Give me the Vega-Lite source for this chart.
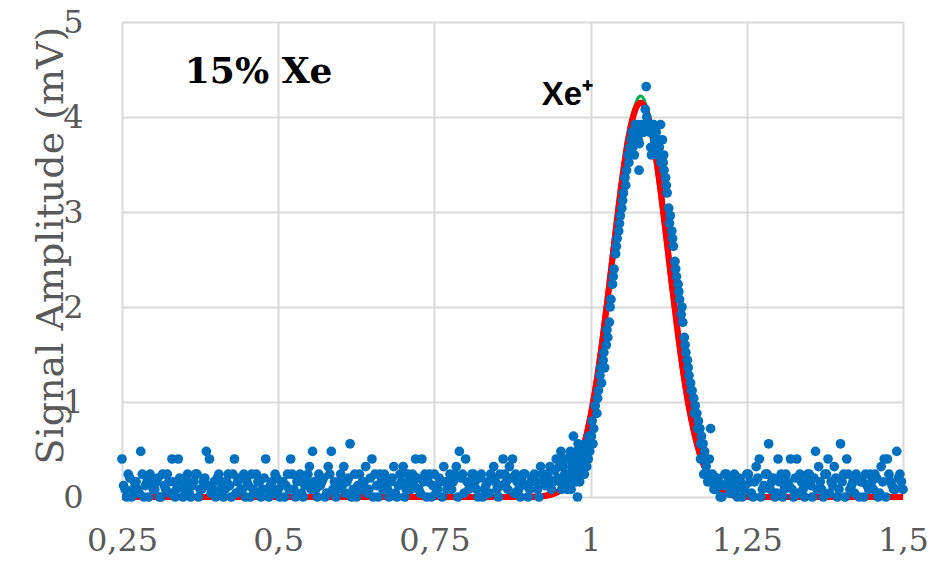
{
  "$schema": "https://vega.github.io/schema/vega-lite/v6.json",
  "width": 781,
  "height": 475,
  "autosize": "none",
  "padding": {"left": 122, "top": 22, "right": 30, "bottom": 72},
  "background": "white",
  "config": {"view": {"stroke": null}},
  "datasets": {
    "fit": [
      {"x": 0.25, "y": 0}, {"x": 0.90, "y": 0}, {"x": 0.92, "y": 0.007}, {"x": 0.93, "y": 0.016}, {"x": 0.94, "y": 0.033},
      {"x": 0.95, "y": 0.064}, {"x": 0.96, "y": 0.119}, {"x": 0.97, "y": 0.209}, {"x": 0.98, "y": 0.352},
      {"x": 0.99, "y": 0.562}, {"x": 1.00, "y": 0.855}, {"x": 1.01, "y": 1.237}, {"x": 1.02, "y": 1.706},
      {"x": 1.03, "y": 2.239}, {"x": 1.04, "y": 2.796}, {"x": 1.05, "y": 3.323}, {"x": 1.06, "y": 3.760},
      {"x": 1.07, "y": 4.049}, {"x": 1.075, "y": 4.124}, {"x": 1.08, "y": 4.15}, {"x": 1.085, "y": 4.124},
      {"x": 1.09, "y": 4.049}, {"x": 1.10, "y": 3.760}, {"x": 1.11, "y": 3.323}, {"x": 1.12, "y": 2.796},
      {"x": 1.13, "y": 2.239}, {"x": 1.14, "y": 1.706}, {"x": 1.15, "y": 1.237}, {"x": 1.16, "y": 0.855},
      {"x": 1.17, "y": 0.562}, {"x": 1.18, "y": 0.352}, {"x": 1.19, "y": 0.209}, {"x": 1.20, "y": 0.119},
      {"x": 1.21, "y": 0.064}, {"x": 1.22, "y": 0.033}, {"x": 1.23, "y": 0.016}, {"x": 1.24, "y": 0.007},
      {"x": 1.26, "y": 0}, {"x": 1.5, "y": 0}
    ],
    "green": [
      {"x": 1.065, "y": 3.98}, {"x": 1.07, "y": 4.1}, {"x": 1.075, "y": 4.19}, {"x": 1.08, "y": 4.22},
      {"x": 1.085, "y": 4.19}, {"x": 1.09, "y": 4.1}, {"x": 1.095, "y": 3.98}
    ],
    "pts": [
      {"x":0.250,"y":0.40},{"x":0.255,"y":0.08},{"x":0.260,"y":0.24},{"x":0.265,"y":0},{"x":0.270,"y":0.16},{"x":0.275,"y":0.08},{"x":0.280,"y":0.48},{"x":0.285,"y":0},{"x":0.290,"y":0.16},{"x":0.295,"y":0.24},
      {"x":0.300,"y":0.08},{"x":0.305,"y":0.16},{"x":0.310,"y":0},{"x":0.315,"y":0.24},{"x":0.320,"y":0.08},{"x":0.325,"y":0.16},{"x":0.330,"y":0.40},{"x":0.335,"y":0},{"x":0.340,"y":0.40},{"x":0.345,"y":0.16},
      {"x":0.350,"y":0.08},{"x":0.355,"y":0.24},{"x":0.360,"y":0},{"x":0.365,"y":0.16},{"x":0.370,"y":0.24},{"x":0.375,"y":0.08},{"x":0.380,"y":0.16},{"x":0.385,"y":0.48},{"x":0.390,"y":0.40},{"x":0.395,"y":0.08},
      {"x":0.400,"y":0},{"x":0.405,"y":0.24},{"x":0.410,"y":0.16},{"x":0.415,"y":0.08},{"x":0.420,"y":0.24},{"x":0.425,"y":0},{"x":0.430,"y":0.40},{"x":0.435,"y":0.16},{"x":0.440,"y":0.08},{"x":0.445,"y":0.24},
      {"x":0.450,"y":0.16},{"x":0.455,"y":0},{"x":0.460,"y":0.08},{"x":0.465,"y":0.24},{"x":0.470,"y":0.16},{"x":0.475,"y":0.08},{"x":0.480,"y":0.40},{"x":0.485,"y":0},{"x":0.490,"y":0.16},{"x":0.495,"y":0.24},
      {"x":0.500,"y":0.08},{"x":0.505,"y":0.16},{"x":0.510,"y":0},{"x":0.515,"y":0.24},{"x":0.520,"y":0.40},{"x":0.525,"y":0.08},{"x":0.530,"y":0.16},{"x":0.535,"y":0.24},{"x":0.540,"y":0},{"x":0.545,"y":0.16},
      {"x":0.550,"y":0.32},{"x":0.555,"y":0.48},{"x":0.560,"y":0.08},{"x":0.565,"y":0.24},{"x":0.570,"y":0.16},{"x":0.575,"y":0},{"x":0.580,"y":0.32},{"x":0.585,"y":0.48},{"x":0.590,"y":0.16},{"x":0.595,"y":0.08},
      {"x":0.600,"y":0.24},{"x":0.605,"y":0.32},{"x":0.610,"y":0.16},{"x":0.615,"y":0.56},{"x":0.620,"y":0.08},{"x":0.625,"y":0},{"x":0.630,"y":0.24},{"x":0.635,"y":0.16},{"x":0.640,"y":0.32},{"x":0.645,"y":0.08},
      {"x":0.650,"y":0.40},{"x":0.655,"y":0.24},{"x":0.660,"y":0},{"x":0.665,"y":0.16},{"x":0.670,"y":0.24},{"x":0.675,"y":0.08},{"x":0.680,"y":0.16},{"x":0.685,"y":0.32},{"x":0.690,"y":0},{"x":0.695,"y":0.24},
      {"x":0.700,"y":0.32},{"x":0.705,"y":0.08},{"x":0.710,"y":0.16},{"x":0.715,"y":0.24},{"x":0.720,"y":0.40},{"x":0.725,"y":0.08},{"x":0.730,"y":0.40},{"x":0.735,"y":0.24},{"x":0.740,"y":0.16},{"x":0.745,"y":0},
      {"x":0.750,"y":0.24},{"x":0.755,"y":0.08},{"x":0.760,"y":0.16},{"x":0.765,"y":0.32},{"x":0.770,"y":0.08},{"x":0.775,"y":0.24},{"x":0.780,"y":0.16},{"x":0.785,"y":0.32},{"x":0.790,"y":0.48},{"x":0.795,"y":0.24},
      {"x":0.800,"y":0.40},{"x":0.805,"y":0.08},{"x":0.810,"y":0.24},{"x":0.815,"y":0.16},{"x":0.820,"y":0},{"x":0.825,"y":0.24},{"x":0.830,"y":0.08},{"x":0.835,"y":0.16},{"x":0.840,"y":0.24},{"x":0.845,"y":0.32},
      {"x":0.850,"y":0.08},{"x":0.855,"y":0.24},{"x":0.860,"y":0.40},{"x":0.865,"y":0.16},{"x":0.870,"y":0.32},{"x":0.875,"y":0.40},{"x":0.880,"y":0.24},{"x":0.885,"y":0.08},{"x":0.890,"y":0.16},{"x":0.895,"y":0.24},
      {"x":0.900,"y":0},{"x":0.905,"y":0.16},{"x":0.910,"y":0.24},{"x":0.915,"y":0.08},{"x":0.920,"y":0.32},{"x":0.925,"y":0.16},{"x":0.930,"y":0.24},{"x":0.935,"y":0.32},{"x":0.940,"y":0.16},{"x":0.945,"y":0.40},
      {"x":0.950,"y":0.32},{"x":0.9525,"y":0.48},{"x":0.955,"y":0.16},{"x":0.9575,"y":0.40},{"x":0.960,"y":0.24},{"x":0.9625,"y":0.08},{"x":0.965,"y":0.40},{"x":0.9675,"y":0.48},{"x":0.970,"y":0.32},{"x":0.9725,"y":0.64},
      {"x":0.975,"y":0.24},{"x":0.9775,"y":0.48},{"x":0.980,"y":0.56},{"x":0.9825,"y":0.16},{"x":0.985,"y":0.40},{"x":0.9875,"y":0.32},{"x":0.979,"y":0.0},{"x":0.990,"y":0.24},{"x":0.9925,"y":0.56},{"x":0.995,"y":0.48},
      {"x":0.9975,"y":0.64},{"x":1.000,"y":0.56},{"x":1.0025,"y":0.80},{"x":1.005,"y":0.72},{"x":1.0075,"y":0.96},{"x":1.010,"y":0.88},{"x":1.0125,"y":1.12},{"x":1.015,"y":1.28},{"x":1.0175,"y":1.20},{"x":1.020,"y":1.44},
      {"x":1.0225,"y":1.36},{"x":1.025,"y":1.60},{"x":1.0275,"y":1.68},{"x":1.030,"y":1.84},{"x":1.0325,"y":2.08},{"x":1.035,"y":2.24},{"x":1.0375,"y":2.40},{"x":1.040,"y":2.56},{"x":1.0425,"y":2.72},{"x":1.045,"y":2.80},
      {"x":1.0475,"y":2.96},{"x":1.050,"y":3.04},{"x":1.0525,"y":3.20},{"x":1.055,"y":3.36},{"x":1.0575,"y":3.44},{"x":1.060,"y":3.60},{"x":1.0625,"y":3.68},{"x":1.065,"y":3.76},{"x":1.0675,"y":3.68},{"x":1.070,"y":3.60},
      {"x":1.0725,"y":3.84},{"x":1.075,"y":3.92},{"x":1.0775,"y":3.44},{"x":1.078,"y":3.72},{"x":1.080,"y":3.88},{"x":1.0825,"y":3.84},{"x":1.085,"y":3.84},{"x":1.0875,"y":4.08},{"x":1.089,"y":4.32},{"x":1.090,"y":4.00},
      {"x":1.0925,"y":3.92},{"x":1.095,"y":3.84},{"x":1.0975,"y":3.60},{"x":1.099,"y":3.92},{"x":1.100,"y":3.84},{"x":1.1025,"y":3.76},{"x":1.105,"y":3.84},{"x":1.107,"y":3.60},{"x":1.108,"y":3.76},{"x":1.110,"y":3.68},
      {"x":1.112,"y":3.92},{"x":1.1125,"y":3.52},{"x":1.115,"y":3.76},{"x":1.117,"y":3.60},{"x":1.1175,"y":3.44},{"x":1.120,"y":3.36},{"x":1.1225,"y":3.20},{"x":1.125,"y":3.04},{"x":1.1275,"y":2.96},{"x":1.130,"y":2.80},
      {"x":1.1325,"y":2.64},{"x":1.135,"y":2.48},{"x":1.1375,"y":2.32},{"x":1.140,"y":2.24},{"x":1.1425,"y":2.08},{"x":1.145,"y":1.92},{"x":1.1475,"y":1.84},{"x":1.150,"y":1.68},{"x":1.1525,"y":1.52},{"x":1.155,"y":1.44},
      {"x":1.1575,"y":1.28},{"x":1.160,"y":1.20},{"x":1.1625,"y":1.12},{"x":1.165,"y":1.04},{"x":1.1675,"y":0.96},{"x":1.170,"y":0.88},{"x":1.1725,"y":0.80},{"x":1.175,"y":0.72},{"x":1.1775,"y":0.64},{"x":1.180,"y":0.56},
      {"x":1.1825,"y":0.48},{"x":1.176,"y":0.40},{"x":1.185,"y":0.32},{"x":1.181,"y":0.24},{"x":1.1875,"y":0.16},{"x":1.190,"y":0.40},{"x":1.192,"y":0.72},
      {"x":1.195,"y":0.24},{"x":1.200,"y":0.08},{"x":1.205,"y":0.16},{"x":1.210,"y":0},{"x":1.215,"y":0.24},{"x":1.220,"y":0.16},{"x":1.225,"y":0.08},{"x":1.230,"y":0.24},{"x":1.235,"y":0},{"x":1.240,"y":0.16},
      {"x":1.245,"y":0.08},{"x":1.250,"y":0.24},{"x":1.255,"y":0.16},{"x":1.260,"y":0},{"x":1.265,"y":0.32},{"x":1.270,"y":0.40},{"x":1.275,"y":0.08},{"x":1.280,"y":0.24},{"x":1.285,"y":0.56},{"x":1.290,"y":0.16},
      {"x":1.295,"y":0},{"x":1.300,"y":0.40},{"x":1.305,"y":0.24},{"x":1.310,"y":0.08},{"x":1.315,"y":0.16},{"x":1.320,"y":0.40},{"x":1.325,"y":0},{"x":1.330,"y":0.40},{"x":1.335,"y":0.24},{"x":1.340,"y":0.08},
      {"x":1.345,"y":0.16},{"x":1.350,"y":0.24},{"x":1.355,"y":0},{"x":1.360,"y":0.48},{"x":1.365,"y":0.32},{"x":1.370,"y":0.08},{"x":1.375,"y":0.24},{"x":1.380,"y":0.40},{"x":1.385,"y":0.16},{"x":1.390,"y":0.32},
      {"x":1.395,"y":0},{"x":1.400,"y":0.56},{"x":1.405,"y":0.24},{"x":1.410,"y":0.40},{"x":1.415,"y":0.08},{"x":1.420,"y":0.16},{"x":1.425,"y":0.24},{"x":1.430,"y":0},{"x":1.435,"y":0.16},{"x":1.440,"y":0.24},
      {"x":1.445,"y":0.08},{"x":1.450,"y":0.16},{"x":1.455,"y":0.24},{"x":1.460,"y":0},{"x":1.465,"y":0.32},{"x":1.470,"y":0.40},{"x":1.475,"y":0.40},{"x":1.480,"y":0.16},{"x":1.485,"y":0.08},{"x":1.490,"y":0.48},
      {"x":1.495,"y":0.24},{"x":1.500,"y":0.08},
      {"x":0.2525,"y":0.12},{"x":0.2575,"y":0},{"x":0.2625,"y":0.2},{"x":0.2675,"y":0.08},{"x":0.2725,"y":0.16},{"x":0.2775,"y":0.04},{"x":0.2825,"y":0.24},{"x":0.2875,"y":0.12},{"x":0.2925,"y":0},{"x":0.2975,"y":0.16},
      {"x":0.3025,"y":0.08},{"x":0.3075,"y":0.2},{"x":0.3125,"y":0},{"x":0.3175,"y":0.12},{"x":0.3225,"y":0.24},{"x":0.3275,"y":0.04},{"x":0.3325,"y":0.16},{"x":0.3375,"y":0.08},{"x":0.3425,"y":0.2},{"x":0.3475,"y":0},
      {"x":0.3525,"y":0.16},{"x":0.3575,"y":0.04},{"x":0.3625,"y":0.12},{"x":0.3675,"y":0.24},{"x":0.3725,"y":0},{"x":0.3775,"y":0.08},{"x":0.3825,"y":0.2},{"x":0.3875,"y":0.12},{"x":0.3925,"y":0.04},{"x":0.3975,"y":0.16},
      {"x":0.4025,"y":0.2},{"x":0.4075,"y":0.08},{"x":0.4125,"y":0},{"x":0.4175,"y":0.16},{"x":0.4225,"y":0.12},{"x":0.4275,"y":0.24},{"x":0.4325,"y":0.04},{"x":0.4375,"y":0.2},{"x":0.4425,"y":0.08},{"x":0.4475,"y":0},
      {"x":0.4525,"y":0.12},{"x":0.4575,"y":0.24},{"x":0.4625,"y":0.04},{"x":0.4675,"y":0.16},{"x":0.4725,"y":0},{"x":0.4775,"y":0.2},{"x":0.4825,"y":0.08},{"x":0.4875,"y":0.12},{"x":0.4925,"y":0.04},{"x":0.4975,"y":0.2},
      {"x":0.5025,"y":0},{"x":0.5075,"y":0.16},{"x":0.5125,"y":0.12},{"x":0.5175,"y":0.08},{"x":0.5225,"y":0.24},{"x":0.5275,"y":0},{"x":0.5325,"y":0.2},{"x":0.5375,"y":0.04},{"x":0.5425,"y":0.12},{"x":0.5475,"y":0.24},
      {"x":0.5525,"y":0.08},{"x":0.5575,"y":0.16},{"x":0.5625,"y":0},{"x":0.5675,"y":0.12},{"x":0.5725,"y":0.2},{"x":0.5775,"y":0.04},{"x":0.5825,"y":0.24},{"x":0.5875,"y":0.08},{"x":0.5925,"y":0},{"x":0.5975,"y":0.16},
      {"x":0.6025,"y":0.12},{"x":0.6075,"y":0.04},{"x":0.6125,"y":0.2},{"x":0.6175,"y":0},{"x":0.6225,"y":0.24},{"x":0.6275,"y":0.12},{"x":0.6325,"y":0.08},{"x":0.6375,"y":0.16},{"x":0.6425,"y":0.04},{"x":0.6475,"y":0.2},
      {"x":0.6525,"y":0},{"x":0.6575,"y":0.12},{"x":0.6625,"y":0.24},{"x":0.6675,"y":0.08},{"x":0.6725,"y":0.16},{"x":0.6775,"y":0},{"x":0.6825,"y":0.2},{"x":0.6875,"y":0.04},{"x":0.6925,"y":0.12},{"x":0.6975,"y":0.16},
      {"x":0.7025,"y":0},{"x":0.7075,"y":0.24},{"x":0.7125,"y":0.08},{"x":0.7175,"y":0.12},{"x":0.7225,"y":0.2},{"x":0.7275,"y":0.04},{"x":0.7325,"y":0.16},{"x":0.7375,"y":0},{"x":0.7425,"y":0.24},{"x":0.7475,"y":0.12},
      {"x":0.7525,"y":0.04},{"x":0.7575,"y":0.2},{"x":0.7625,"y":0},{"x":0.7675,"y":0.16},{"x":0.7725,"y":0.12},{"x":0.7775,"y":0.08},{"x":0.7825,"y":0.24},{"x":0.7875,"y":0},{"x":0.7925,"y":0.2},{"x":0.7975,"y":0.04},
      {"x":0.8025,"y":0.16},{"x":0.8075,"y":0.12},{"x":0.8125,"y":0.24},{"x":0.8175,"y":0.08},{"x":0.8225,"y":0.2},{"x":0.8275,"y":0},{"x":0.8325,"y":0.12},{"x":0.8375,"y":0.04},{"x":0.8425,"y":0.2},{"x":0.8475,"y":0.16},
      {"x":0.8525,"y":0},{"x":0.8575,"y":0.12},{"x":0.8625,"y":0.24},{"x":0.8675,"y":0.08},{"x":0.8725,"y":0.2},{"x":0.8775,"y":0.04},{"x":0.8825,"y":0.16},{"x":0.8875,"y":0},{"x":0.8925,"y":0.24},{"x":0.8975,"y":0.12},
      {"x":0.9025,"y":0.08},{"x":0.9075,"y":0.2},{"x":0.9125,"y":0.16},{"x":0.9175,"y":0},{"x":0.9225,"y":0.24},{"x":0.9275,"y":0.12},{"x":0.9325,"y":0.2},{"x":0.9375,"y":0.08},{"x":0.9425,"y":0.28},{"x":0.9475,"y":0.2},
      {"x":1.1975,"y":0.08},{"x":1.2025,"y":0.2},{"x":1.2075,"y":0},{"x":1.2125,"y":0.12},{"x":1.2175,"y":0.24},{"x":1.2225,"y":0.04},{"x":1.2275,"y":0.16},{"x":1.2325,"y":0.08},{"x":1.2375,"y":0.2},{"x":1.2425,"y":0},
      {"x":1.2475,"y":0.12},{"x":1.2525,"y":0.24},{"x":1.2575,"y":0.04},{"x":1.2625,"y":0.16},{"x":1.2675,"y":0.2},{"x":1.2725,"y":0},{"x":1.2775,"y":0.12},{"x":1.2825,"y":0.24},{"x":1.2875,"y":0.08},{"x":1.2925,"y":0.2},
      {"x":1.2975,"y":0.04},{"x":1.3025,"y":0.16},{"x":1.3075,"y":0},{"x":1.3125,"y":0.24},{"x":1.3175,"y":0.12},{"x":1.3225,"y":0.08},{"x":1.3275,"y":0.2},{"x":1.3325,"y":0.04},{"x":1.3375,"y":0.16},{"x":1.3425,"y":0},
      {"x":1.3475,"y":0.24},{"x":1.3525,"y":0.12},{"x":1.3575,"y":0.2},{"x":1.3625,"y":0.08},{"x":1.3675,"y":0.16},{"x":1.3725,"y":0},{"x":1.3775,"y":0.24},{"x":1.3825,"y":0.04},{"x":1.3875,"y":0.12},{"x":1.3925,"y":0.2},
      {"x":1.3975,"y":0.08},{"x":1.4025,"y":0.16},{"x":1.4075,"y":0},{"x":1.4125,"y":0.24},{"x":1.4175,"y":0.12},{"x":1.4225,"y":0.04},{"x":1.4275,"y":0.2},{"x":1.4325,"y":0.16},{"x":1.4375,"y":0},{"x":1.4425,"y":0.12},
      {"x":1.4475,"y":0.24},{"x":1.4525,"y":0.08},{"x":1.4575,"y":0.2},{"x":1.4625,"y":0.04},{"x":1.4675,"y":0.16},{"x":1.4725,"y":0},{"x":1.4775,"y":0.24},{"x":1.4825,"y":0.12},{"x":1.4875,"y":0.08},{"x":1.4925,"y":0.2},
      {"x":1.4975,"y":0.16},
      {"x":0.9512,"y":0.16},{"x":0.9537,"y":0.08},{"x":0.9562,"y":0.32},{"x":0.9587,"y":0.24},{"x":0.9612,"y":0.40},{"x":0.9637,"y":0.16},{"x":0.9662,"y":0.24},{"x":0.9687,"y":0.08},{"x":0.9712,"y":0.40},{"x":0.9737,"y":0.32},
      {"x":0.9762,"y":0.16},{"x":0.9787,"y":0.40},{"x":0.9812,"y":0.32},{"x":0.9837,"y":0.48},{"x":0.9862,"y":0.24},{"x":0.9887,"y":0.48},{"x":0.9912,"y":0.40},{"x":0.9937,"y":0.32},{"x":0.9962,"y":0.40},{"x":0.9987,"y":0.48},
      {"x":1.0012,"y":0.64},{"x":1.0037,"y":0.56},
      {"x":1.1212,"y":3.28},{"x":1.1262,"y":2.88},{"x":1.1312,"y":2.72},{"x":1.1362,"y":2.40},{"x":1.1412,"y":2.16},{"x":1.1462,"y":2.00},{"x":1.1512,"y":1.60},{"x":1.1562,"y":1.36},{"x":1.1612,"y":1.12},{"x":1.1662,"y":0.88},
      {"x":1.1712,"y":0.72},{"x":1.1762,"y":0.56},{"x":1.1812,"y":0.40},{"x":1.1862,"y":0.24},{"x":1.1912,"y":0.16},
      {"x":1.0112,"y":1.04},{"x":1.0162,"y":1.36},{"x":1.0212,"y":1.52},{"x":1.0262,"y":1.76},{"x":1.0312,"y":2.00},{"x":1.0362,"y":2.32},{"x":1.0412,"y":2.64},{"x":1.0462,"y":2.88},{"x":1.0512,"y":3.12},{"x":1.0562,"y":3.28},
      {"x":1.0612,"y":3.52},{"x":1.0662,"y":3.84},{"x":1.0712,"y":3.92},{"x":1.0762,"y":3.76},{"x":1.0812,"y":3.92},{"x":1.0862,"y":3.92},{"x":1.0962,"y":3.68},{"x":1.1012,"y":3.92},{"x":1.1062,"y":3.68},{"x":1.1112,"y":3.60},
      {"x":1.1162,"y":3.52}
    ],
    "title": [{"x": 0.3505, "y": 4.36, "t": "15% Xe"}],
    "ion": [{"x": 0.9218, "y": 4.126, "t": "Xe⁺"}]
  },
  "layer": [
    {
      "data": {"name": "fit"},
      "mark": {"type": "line", "color": "#ff0000", "strokeWidth": 6, "interpolate": "monotone"},
      "encoding": {
        "x": {
          "field": "x", "type": "quantitative",
          "scale": {"domain": [0.25, 1.5], "nice": false, "zero": false},
          "axis": {
            "values": [0.25, 0.5, 0.75, 1, 1.25, 1.5],
            "labelExpr": "replace(format(datum.value, '~g'), '.', ',')",
            "title": null, "domain": false, "ticks": false,
            "grid": true, "gridColor": "#d9d9d9", "gridWidth": 2,
            "labelFont": "DejaVu Serif", "labelFontSize": 32, "labelColor": "#595959",
            "labelPadding": 28, "labelFlush": false
          }
        },
        "y": {
          "field": "y", "type": "quantitative",
          "scale": {"domain": [0, 5], "nice": false},
          "axis": {
            "values": [0, 1, 2, 3, 4, 5],
            "format": "d",
            "title": "Signal Amplitude (mV)", "domain": false, "ticks": false,
            "grid": true, "gridColor": "#d9d9d9", "gridWidth": 2,
            "labelFont": "DejaVu Serif", "labelFontSize": 32, "labelColor": "#595959",
            "labelPadding": 39, "labelFlush": false,
            "titleFont": "DejaVu Serif", "titleFontSize": 38, "titleFontWeight": "normal", "titleColor": "#595959",
            "titleX": -60, "titleY": 223, "titleAlign": "center", "titleBaseline": "alphabetic", "titleAngle": -90
          }
        }
      }
    },
    {
      "data": {"name": "green"},
      "mark": {"type": "line", "color": "#00b050", "strokeWidth": 3, "interpolate": "monotone"},
      "encoding": {"x": {"field": "x", "type": "quantitative"}, "y": {"field": "y", "type": "quantitative"}}
    },
    {
      "data": {"name": "fit"},
      "mark": {"type": "line", "color": "#ff0000", "strokeWidth": 6, "interpolate": "monotone"},
      "encoding": {"x": {"field": "x", "type": "quantitative"}, "y": {"field": "y", "type": "quantitative"}}
    },
    {
      "data": {"name": "pts"},
      "mark": {"type": "circle", "color": "#0070c0", "size": 95, "opacity": 1},
      "encoding": {"x": {"field": "x", "type": "quantitative"}, "y": {"field": "y", "type": "quantitative"}}
    },
    {
      "data": {"name": "title"},
      "mark": {"type": "text", "font": "DejaVu Serif", "fontWeight": "bold", "fontSize": 36, "color": "#000000", "align": "left", "baseline": "alphabetic"},
      "encoding": {"x": {"field": "x", "type": "quantitative"}, "y": {"field": "y", "type": "quantitative"}, "text": {"field": "t"}}
    },
    {
      "data": {"name": "ion"},
      "mark": {"type": "text", "font": "Liberation Sans", "fontWeight": "bold", "fontSize": 33, "color": "#000000", "align": "left", "baseline": "alphabetic"},
      "encoding": {"x": {"field": "x", "type": "quantitative"}, "y": {"field": "y", "type": "quantitative"}, "text": {"field": "t"}}
    }
  ]
}
